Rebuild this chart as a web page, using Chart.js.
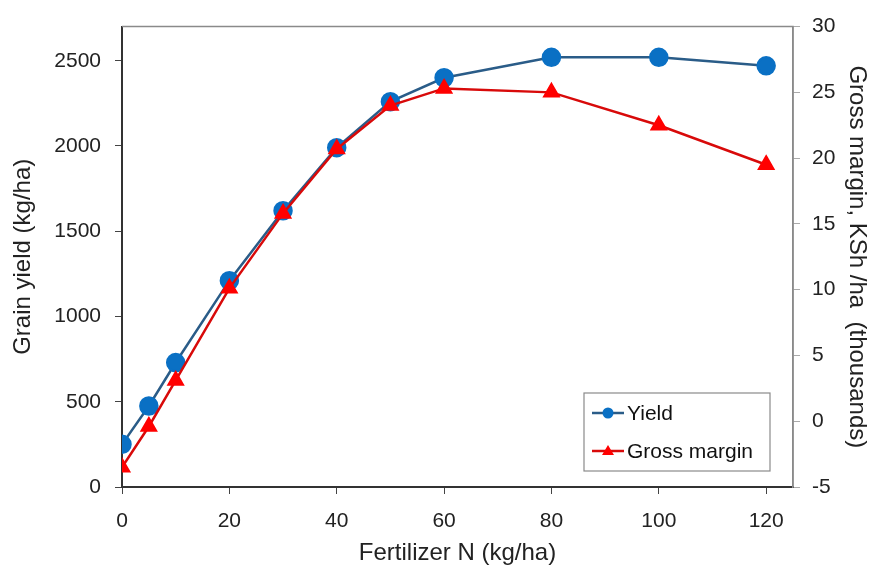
<!DOCTYPE html>
<html>
<head>
<meta charset="utf-8">
<script src="https://cdn.jsdelivr.net/npm/chart.js@4/dist/chart.umd.min.js"></script>
<style>
html,body{margin:0;padding:0;background:#fff;}
#wrap{width:872px;height:572px;position:relative;}
</style>
</head>
<body>
<div id="wrap"><canvas id="c" width="872" height="572"></canvas></div>
<script>
const fertilizerN = [0, 5, 10, 20, 30, 40, 50, 60, 80, 100, 120];
const grainYield = [250, 475, 730, 1210, 1620, 1990, 2260, 2400, 2520, 2520, 2470];
const grossMargin = [-3.5, -0.4, 3.1, 10.1, 15.8, 20.7, 24.0, 25.3, 25.0, 22.5, 19.5];
const xTicks = [0, 20, 40, 60, 80, 100, 120];
const leftTicks = [0, 500, 1000, 1500, 2000, 2500];
const rightTicks = [-5, 0, 5, 10, 15, 20, 25, 30];
const seriesNames = ['Yield', 'Gross margin'];

const FONT = 'Liberation Sans, Arial, sans-serif';

const frame = {
  id: 'frame',
  afterDatasetsDraw(chart) {
    const {ctx, chartArea: a} = chart;
    ctx.save();
    ctx.strokeStyle = '#8a8a8a';
    ctx.lineWidth = 1.5;
    ctx.beginPath();
    ctx.moveTo(a.left, a.top); ctx.lineTo(a.right, a.top); ctx.lineTo(a.right, a.bottom);
    ctx.stroke();
    ctx.restore();
  },
  afterDraw(chart) {
    const ctx = chart.ctx;
    const bx = 584, by = 393, bw = 186, bh = 78;
    ctx.save();
    ctx.fillStyle = '#fff';
    ctx.fillRect(bx, by, bw, bh);
    ctx.strokeStyle = '#8a8a8a';
    ctx.lineWidth = 1.2;
    ctx.strokeRect(bx, by, bw, bh);
    const rows = [413, 451];
    chart.data.datasets.forEach((ds, i) => {
      const y = rows[i];
      ctx.strokeStyle = ds.borderColor;
      ctx.lineWidth = 2.5;
      ctx.beginPath(); ctx.moveTo(592, y); ctx.lineTo(624, y); ctx.stroke();
      ctx.fillStyle = ds.pointBackgroundColor;
      ctx.beginPath();
      if (ds.pointStyle === 'circle') {
        ctx.arc(608, y, 5.5, 0, Math.PI * 2);
      } else {
        ctx.moveTo(608, y - 6); ctx.lineTo(614, y + 4); ctx.lineTo(602, y + 4); ctx.closePath();
      }
      ctx.fill();
      ctx.fillStyle = '#111';
      ctx.font = '21px ' + FONT;
      ctx.textBaseline = 'middle';
      ctx.fillText(ds.label, 627, y + 1);
    });
    ctx.restore();
  }
};

const tickFont = {family: FONT, size: 21};
const titleFont = {family: FONT, size: 24};

new Chart(document.getElementById('c'), {
  type: 'line',
  data: {
    datasets: [
      {
        label: seriesNames[0],
        data: fertilizerN.map((x, i) => ({x, y: grainYield[i]})),
        yAxisID: 'y',
        borderColor: '#2a5c88',
        backgroundColor: '#0a70c4',
        pointBackgroundColor: '#0a70c4',
        pointBorderColor: '#0a70c4',
        pointStyle: 'circle',
        pointRadius: 8.5,
        borderWidth: 2.5,
        tension: 0,
        order: 1
      },
      {
        label: seriesNames[1],
        data: fertilizerN.map((x, i) => ({x, y: grossMargin[i]})),
        yAxisID: 'y2',
        borderColor: '#d80a0a',
        backgroundColor: '#ff0000',
        pointBackgroundColor: '#ff0000',
        pointBorderColor: '#ff0000',
        pointStyle: 'triangle',
        pointRadius: 8,
        borderWidth: 2.5,
        tension: 0,
        order: 0
      }
    ]
  },
  options: {
    responsive: false,
    animation: false,
    locale: 'en-US',
    layout: {padding: {top: 26, left: 0, right: 0, bottom: 0}},
    plugins: {legend: {display: false}, tooltip: {enabled: false}},
    scales: {
      x: {
        type: 'linear',
        min: 0, max: 125,
        afterFit(s) { s.height = 85; },
        afterBuildTicks(s) { s.ticks = xTicks.map(v => ({value: v})); },
        ticks: {font: tickFont, color: '#222', padding: 15, maxRotation: 0, callback: v => String(v)},
        grid: {drawOnChartArea: false, tickLength: 7, color: '#444', lineWidth: 1},
        border: {color: '#333', width: 2},
        title: {display: true, text: 'Fertilizer N (kg/ha)', font: titleFont, color: '#222', padding: {top: 4, bottom: 4}}
      },
      y: {
        type: 'linear',
        position: 'left',
        min: 0, max: 2700,
        afterFit(s) { s.width = 122; },
        afterBuildTicks(s) { s.ticks = leftTicks.map(v => ({value: v})); },
        ticks: {font: tickFont, color: '#222', padding: 14, callback: v => String(v)},
        grid: {drawOnChartArea: false, tickLength: 7, color: '#444', lineWidth: 1},
        border: {color: '#333', width: 2},
        title: {display: true, text: 'Grain yield (kg/ha)', font: titleFont, color: '#222', padding: {top: 9, bottom: 0}}
      },
      y2: {
        type: 'linear',
        position: 'right',
        min: -5, max: 30,
        afterFit(s) { s.width = 79; },
        afterBuildTicks(s) { s.ticks = rightTicks.map(v => ({value: v})); },
        ticks: {font: tickFont, color: '#222', padding: 12, callback: v => String(v)},
        grid: {drawOnChartArea: false, tickLength: 7, color: '#aaa', lineWidth: 1},
        border: {color: '#8a8a8a', width: 1.5},
        title: {display: true, text: 'Gross margin, KSh /ha  (thousands)', font: titleFont, color: '#222', padding: {top: 1, bottom: 0}}
      }
    }
  },
  plugins: [frame]
});
</script>
</body>
</html>
